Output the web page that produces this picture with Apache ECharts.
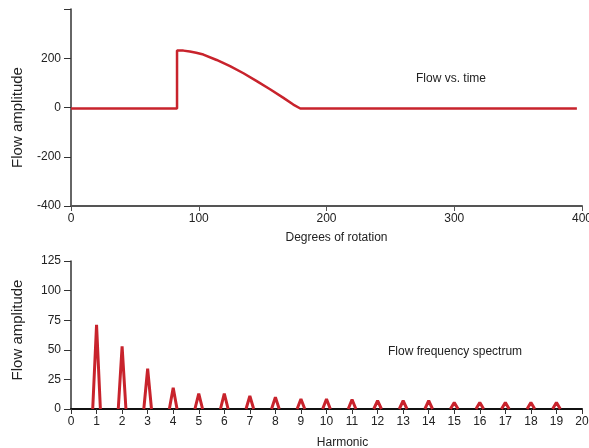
<!DOCTYPE html>
<html><head><meta charset="utf-8">
<script src="https://cdn.jsdelivr.net/npm/echarts@6/dist/echarts.min.js"></script>
<style>html,body{margin:0;padding:0;background:#fff}#c{width:589px;height:448px}</style>
</head><body><div id="c"></div>
<script>
// Top panel: flow vs. time
const angles = [0, 83, 83, 88, 93, 98, 103.6, 114, 124.5, 135, 145.4, 155.8, 166.3, 174, 179.5, 396];
const flows  = [-4, -4, 231, 231, 227, 222, 215, 193, 168, 139, 107, 74, 39, 12, -4, -4];
// Bottom panel: flow frequency spectrum
const harmonics = [1, 2, 3, 4, 5, 6, 7, 8, 9, 10, 11, 12, 13, 14, 15, 16, 17, 18, 19];
const amplitudes = [71, 53, 34, 18, 13, 13, 11, 10, 8.5, 8.5, 8, 7, 7, 7, 5.5, 5.5, 5.5, 5.5, 5.5];
const topXTicks = [0, 100, 200, 300, 400];
const topYTicks = [-400, -200, 0, 200];
const botYTicks = [0, 25, 50, 75, 100, 125];

const RED = '#c8232c';
const FONT = "'Liberation Sans Narrow', 'Liberation Sans', Arial, sans-serif";
const HALF = 0.15;

const spikeData = [];
harmonics.forEach((h, i) => {
  spikeData.push([h - HALF, 0], [h, amplitudes[i]], [h + HALF, 0], [h + HALF, null]);
});

const axisLbl = {color: '#222', fontFamily: FONT, fontSize: 12};
const chart = echarts.init(document.getElementById('c'), null, {renderer: 'canvas'});
chart.setOption({
  animation: false,
  grid: [
    {left: 71, right: 7, top: 9, height: 197, outerBoundsMode: 'none', containLabel: false},
    {left: 71, right: 7, top: 261, height: 148, outerBoundsMode: 'none', containLabel: false}
  ],
  xAxis: [
    {gridIndex: 0, type: 'value', min: 0, max: 400, interval: 100,
     axisLine: {onZero: false, lineStyle: {color: '#555', width: 2}},
     axisTick: {show: true, length: 5, lineStyle: {color: '#555'}},
     axisLabel: Object.assign({margin: 7}, axisLbl),
     splitLine: {show: false},
     name: 'Degrees of rotation', nameLocation: 'middle', nameGap: 26,
     nameTextStyle: {color: '#222', fontFamily: FONT, fontSize: 12, padding: [0, 0, 0, 20]}},
    {gridIndex: 1, type: 'value', min: 0, max: 20, interval: 1,
     axisLine: {onZero: false, lineStyle: {color: '#111', width: 2}},
     axisTick: {show: true, length: 5, lineStyle: {color: '#333'}},
     axisLabel: Object.assign({margin: 7}, axisLbl),
     splitLine: {show: false},
     name: 'Harmonic', nameLocation: 'middle', nameGap: 28,
     nameTextStyle: {color: '#222', fontFamily: FONT, fontSize: 12, padding: [0, 0, 0, 32]}}
  ],
  yAxis: [
    {gridIndex: 0, type: 'value', min: -400, max: 400, interval: 200,
     axisLine: {show: true, lineStyle: {color: '#333', width: 1.5}},
     axisTick: {show: true, length: 7, lineStyle: {color: '#333'}},
     axisLabel: Object.assign({margin: 10, formatter: v => topYTicks.includes(v) ? String(v) : ''}, axisLbl),
     splitLine: {show: false},
     name: 'Flow amplitude', nameLocation: 'middle', nameGap: 46, nameRotate: 90,
     nameTextStyle: {color: '#222', fontFamily: "'Liberation Sans', Arial, sans-serif", fontSize: 15, padding: [0, 0, 0, -20]}},
    {gridIndex: 1, type: 'value', min: 0, max: 125, interval: 25,
     axisLine: {show: true, lineStyle: {color: '#333', width: 1.5}},
     axisTick: {show: true, length: 7, lineStyle: {color: '#333'}},
     axisLabel: Object.assign({margin: 10, formatter: v => botYTicks.includes(v) ? String(v) : ''}, axisLbl),
     splitLine: {show: false},
     name: 'Flow amplitude', nameLocation: 'middle', nameGap: 46, nameRotate: 90,
     nameTextStyle: {color: '#222', fontFamily: "'Liberation Sans', Arial, sans-serif", fontSize: 15, padding: [0, 0, 0, 10]}}
  ],
  graphic: [
    {type: 'text', left: 416, top: 73, style: {text: 'Flow vs. time', fill: '#222', font: "12px " + FONT}},
    {type: 'text', left: 388, top: 346, style: {text: 'Flow frequency spectrum', fill: '#222', font: "12px " + FONT}}
  ],
  series: [
    {type: 'line', xAxisIndex: 0, yAxisIndex: 0, showSymbol: false, symbol: 'none',
     lineStyle: {color: RED, width: 2.5}, data: angles.map((a, i) => [a, flows[i]])},
    {type: 'line', xAxisIndex: 1, yAxisIndex: 1, showSymbol: false, symbol: 'none', connectNulls: false,
     lineStyle: {color: RED, width: 3}, data: spikeData}
  ]
});
</script></body></html>
